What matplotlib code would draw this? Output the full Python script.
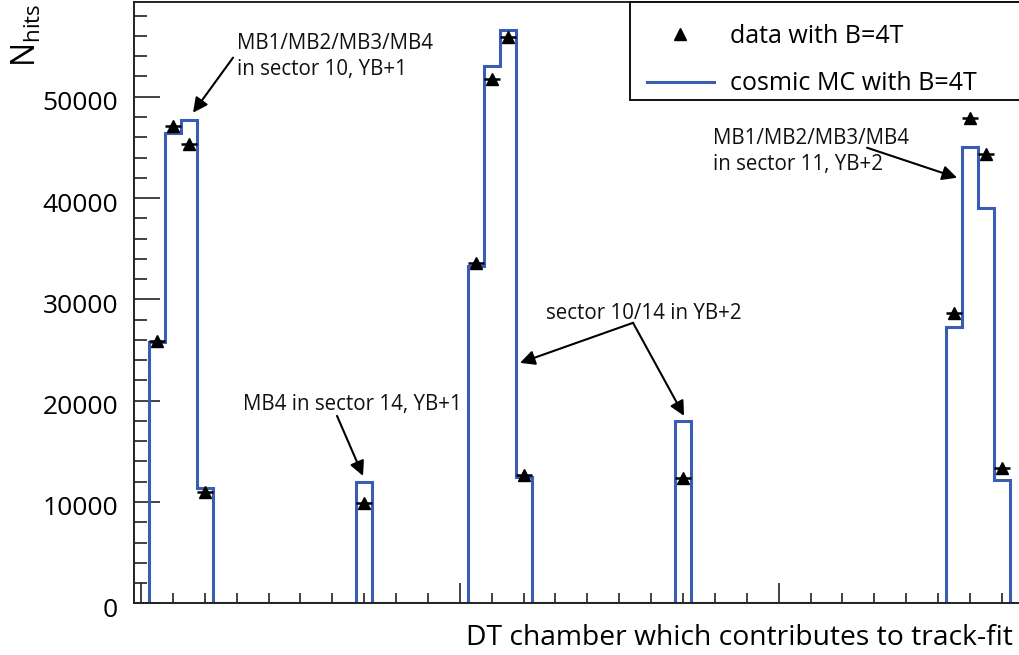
import numpy as np
import matplotlib
matplotlib.use("Agg")
import matplotlib.pyplot as plt
from matplotlib.lines import Line2D
from matplotlib.patches import Rectangle
from matplotlib.ticker import MultipleLocator, FuncFormatter
from matplotlib.transforms import ScaledTranslation

plt.rcParams['font.family'] = ['Open Sans', 'DejaVu Sans']
plt.rcParams['mathtext.default'] = 'regular'

# chamber bins (bin centres) that received hits
chambers = [1, 2, 3, 4, 14, 21, 22, 23, 24, 34, 51, 52, 53, 54]
# simulated cosmic MC hits per chamber
mc_hits = [25800, 46450, 47700, 11350, 12000,
           33300, 53000, 56600, 12450, 17950,
           27300, 45000, 39050, 12150]
# measured hits per chamber
data_hits = [25900, 47100, 45300, 11000, 9900,
             33600, 51750, 55900, 12650, 12350,
             28650, 47900, 44300, 13350]

n_bins = 56
edges = np.arange(n_bins + 1) - 0.5
mc_full = np.zeros(n_bins)
mc_full[chambers] = mc_hits

BLUE = '#3b5cb4'

fig = plt.figure(figsize=(10.2, 6.55), dpi=100)
ax = fig.add_axes([134 / 1020, 1 - 603.3 / 655, 886 / 1020, 601.8 / 655])

ax.stairs(mc_full, edges, color=BLUE, lw=2.2, baseline=0, zorder=2)
ax.errorbar(chambers, data_hits, xerr=0.5, fmt='^', color='black', ms=8.5,
            elinewidth=1.8, capsize=0, zorder=3)

ax.set_xlim(-0.44, 55.14)
ax.set_ylim(0, 59400)

ax.xaxis.set_major_locator(MultipleLocator(20))
ax.xaxis.set_minor_locator(MultipleLocator(2))
ax.yaxis.set_major_locator(MultipleLocator(10000))
ax.yaxis.set_minor_locator(MultipleLocator(2000))
ax.tick_params(axis='x', which='both', direction='in', labelbottom=False,
               color='#222222', width=1.2)
ax.tick_params(axis='x', which='major', length=14.4)
ax.tick_params(axis='x', which='minor', length=7.2)
ax.tick_params(axis='y', which='both', direction='in', color='#222222', width=1.2)
ax.tick_params(axis='y', which='major', length=18.7, pad=11.5, labelsize=19)
ax.tick_params(axis='y', which='minor', length=9.4)
ax.yaxis.set_major_formatter(FuncFormatter(lambda v, p: f"{int(v)}"))
for lbl in ax.get_yticklabels():
    lbl.set_transform(lbl.get_transform() + ScaledTranslation(0, -4 / 100, fig.dpi_scale_trans))

for side in ['left', 'bottom', 'top']:
    ax.spines[side].set_linewidth(1.4)
    ax.spines[side].set_color('#222222')
ax.spines['right'].set_visible(False)

ax.set_xlabel('DT chamber which contributes to track-fit', fontsize=20.3,
              loc='right')
ax.xaxis.set_label_coords((1013 - 134) / 886, -(645 - 603.3) / 601.8)
ax.xaxis.label.set_va('baseline')
ax.set_ylabel('N$_{hits}$', fontsize=23, loc='top')
ax.yaxis.set_label_coords((44 - 134) / 886, (603.3 - 4) / 601.8)


def px(x, y):
    """pixel position on the canvas -> data coordinates"""
    return ((x - 141) / 15.94, (603.3 - y) / 101.25 * 10000)


arrow = dict(arrowstyle='-|>', color='black', lw=1.5, mutation_scale=22,
             shrinkA=0, shrinkB=0)
txt = dict(fontsize=14.8, color='#111111', ha='left', va='baseline',
           linespacing=1.3)

ax.text(*px(237, 75), 'MB1/MB2/MB3/MB4\nin sector 10, YB+1', **txt)
ax.annotate('', xy=px(193, 113), xytext=px(233, 58), arrowprops=arrow)

ax.text(*px(243, 410), 'MB4 in sector 14, YB+1', **txt)
ax.annotate('', xy=px(363, 476), xytext=px(337, 416), arrowprops=arrow)

ax.text(*px(546, 319), 'sector 10/14 in YB+2', **txt)
ax.annotate('', xy=px(520, 363), xytext=px(633, 323), arrowprops=arrow)
ax.annotate('', xy=px(684, 416), xytext=px(633, 323), arrowprops=arrow)

ax.text(*px(713, 170), 'MB1/MB2/MB3/MB4\nin sector 11, YB+2', **txt)
ax.annotate('', xy=px(957, 178), xytext=px(867, 148), arrowprops=arrow)

# legend box (square-cornered, flush with the top frame)
box_x0 = (630 - 134) / 886
box_y0 = (603.3 - 100) / 601.8
ax.add_patch(Rectangle((box_x0, box_y0), 1.0 - box_x0 + 0.01, 1.0 - box_y0,
                       transform=ax.transAxes, facecolor='white',
                       edgecolor='#111111', lw=1.4, clip_on=False, zorder=4))

handles = [Line2D([], [], marker='^', ls='none', color='black', ms=8.5),
           Line2D([], [], color=BLUE, lw=2.2)]
leg = ax.legend(handles, ['data with B=4T', 'cosmic MC with B=4T'],
                loc='upper left', bbox_to_anchor=((624 - 134) / 886, 1.0),
                borderaxespad=0, fontsize=18, frameon=False,
                handlelength=2.68, handletextpad=0.64, borderpad=0.9,
                labelspacing=0.9)
leg.set_zorder(5)

fig.savefig('out.png', dpi=100)
